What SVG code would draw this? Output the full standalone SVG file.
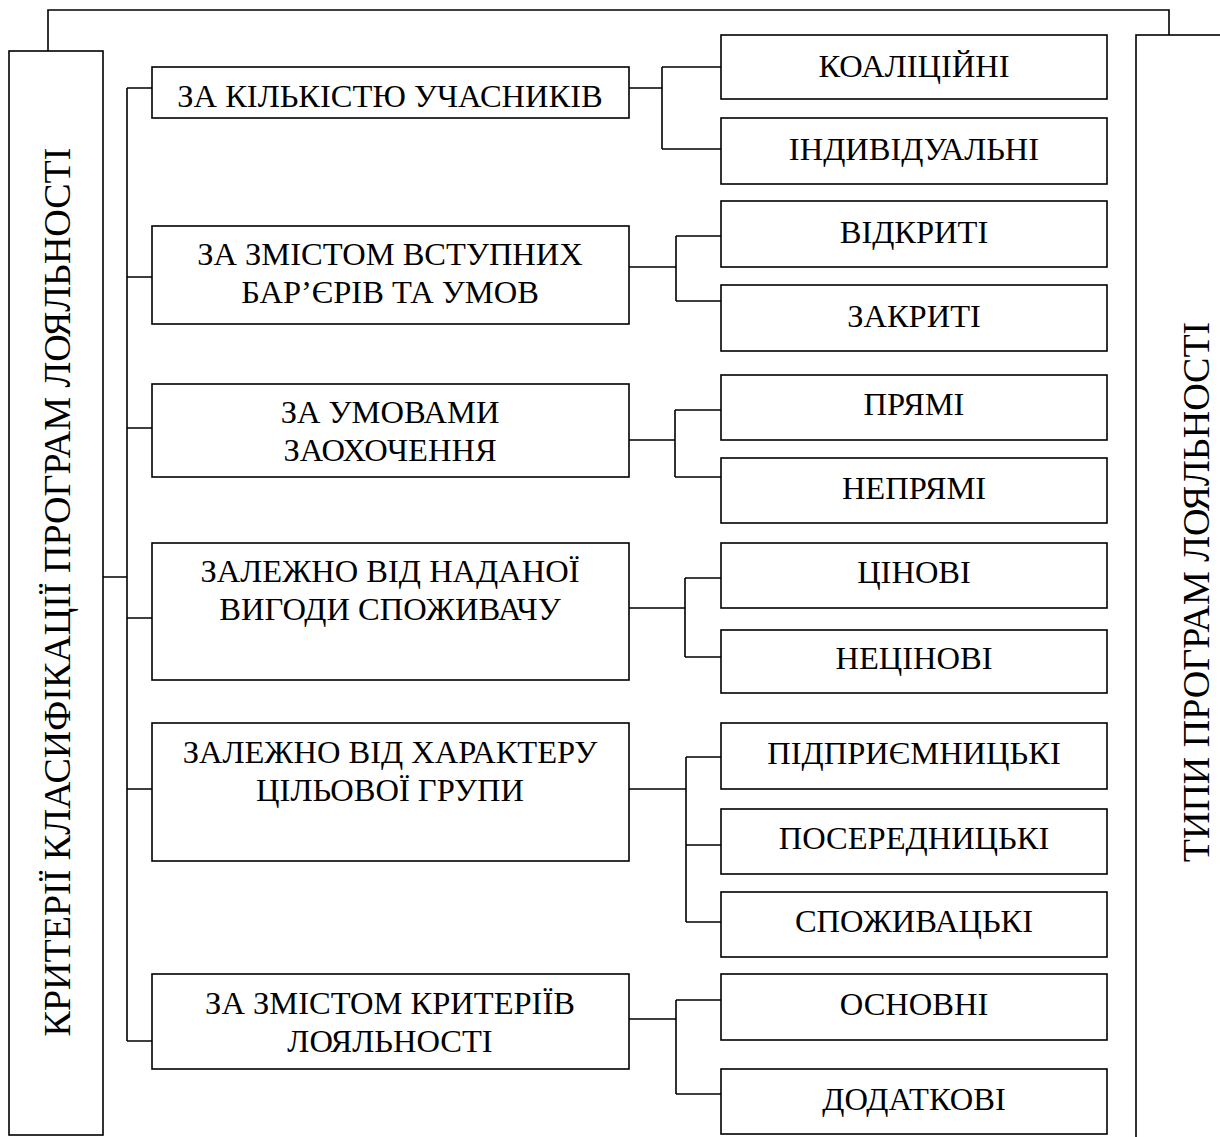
<svg xmlns="http://www.w3.org/2000/svg" width="1220" height="1137" viewBox="0 0 1220 1137">
<style>
.b{fill:#fff;stroke:#000;stroke-width:1.6}
.t{font-family:"Liberation Serif","Times New Roman",serif;font-size:32.5px;fill:#000;text-anchor:middle}
.v{font-family:"Liberation Serif","Times New Roman",serif;font-size:38px;fill:#000;text-anchor:middle}
.c{fill:none;stroke:#000;stroke-width:1.6}
</style>
<rect width="1220" height="1137" fill="#fff"/>
<g id="connectors">
<path class="c" d="M48,51 V10 H1169 V35"/>
<path class="c" d="M103,577 H127 M127,88 V1041 M127,88 H152 M127,277 H152 M127,428 H152 M127,618 H152 M127,789 H152 M127,1041 H152"/>
<path class="c" d="M629,88 H662 M662,67 V149 M662,67 H721 M662,149 H721"/>
<path class="c" d="M629,267 H676 M676,236 V301 M676,236 H721 M676,301 H721"/>
<path class="c" d="M629,440 H675 M675,410 V477 M675,410 H721 M675,477 H721"/>
<path class="c" d="M629,608 H685 M685,578 V657 M685,578 H721 M685,657 H721"/>
<path class="c" d="M629,789 H686 M686,757 V922 M686,757 H721 M686,845 H721 M686,922 H721"/>
<path class="c" d="M629,1019 H676 M676,1000 V1094 M676,1000 H721 M676,1094 H721"/>
</g>
<g id="criteria">
<rect class="b" x="9" y="51" width="94" height="1084"/>
<text class="v" transform="translate(70,592) rotate(-90)">КРИТЕРІЇ КЛАСИФІКАЦІЇ ПРОГРАМ ЛОЯЛЬНОСТІ</text>
</g>
<g id="types">
<rect class="b" x="1136" y="35" width="100" height="1110"/>
<text class="v" transform="translate(1209,592) rotate(-90)">ТИПИ ПРОГРАМ ЛОЯЛЬНОСТІ</text>
</g>
<g id="c1"><rect class="b" x="152" y="67" width="477" height="51"/><text class="t" x="390" y="107">ЗА КІЛЬКІСТЮ УЧАСНИКІВ</text></g>
<g id="c2"><rect class="b" x="152" y="226" width="477" height="98"/><text class="t" x="390" y="265">ЗА ЗМІСТОМ ВСТУПНИХ</text><text class="t" x="390" y="303">БАР’ЄРІВ ТА УМОВ</text></g>
<g id="c3"><rect class="b" x="152" y="384" width="477" height="93"/><text class="t" x="390" y="423">ЗА УМОВАМИ</text><text class="t" x="390" y="461">ЗАОХОЧЕННЯ</text></g>
<g id="c4"><rect class="b" x="152" y="543" width="477" height="137"/><text class="t" x="390" y="582">ЗАЛЕЖНО ВІД НАДАНОЇ</text><text class="t" x="390" y="620">ВИГОДИ СПОЖИВАЧУ</text></g>
<g id="c5"><rect class="b" x="152" y="723" width="477" height="138"/><text class="t" x="390" y="763">ЗАЛЕЖНО ВІД ХАРАКТЕРУ</text><text class="t" x="390" y="801">ЦІЛЬОВОЇ ГРУПИ</text></g>
<g id="c6"><rect class="b" x="152" y="974" width="477" height="95"/><text class="t" x="390" y="1014">ЗА ЗМІСТОМ КРИТЕРІЇВ</text><text class="t" x="390" y="1052">ЛОЯЛЬНОСТІ</text></g>
<g id="t1"><rect class="b" x="721" y="35" width="386" height="64"/><text class="t" x="914" y="77">КОАЛІЦІЙНІ</text></g>
<g id="t2"><rect class="b" x="721" y="118" width="386" height="66"/><text class="t" x="914" y="160">ІНДИВІДУАЛЬНІ</text></g>
<g id="t3"><rect class="b" x="721" y="201" width="386" height="66"/><text class="t" x="914" y="243">ВІДКРИТІ</text></g>
<g id="t4"><rect class="b" x="721" y="285" width="386" height="66"/><text class="t" x="914" y="327">ЗАКРИТІ</text></g>
<g id="t5"><rect class="b" x="721" y="375" width="386" height="65"/><text class="t" x="914" y="415">ПРЯМІ</text></g>
<g id="t6"><rect class="b" x="721" y="458" width="386" height="65"/><text class="t" x="914" y="499">НЕПРЯМІ</text></g>
<g id="t7"><rect class="b" x="721" y="543" width="386" height="65"/><text class="t" x="914" y="583">ЦІНОВІ</text></g>
<g id="t8"><rect class="b" x="721" y="630" width="386" height="63"/><text class="t" x="914" y="669">НЕЦІНОВІ</text></g>
<g id="t9"><rect class="b" x="721" y="723" width="386" height="66"/><text class="t" x="914" y="764">ПІДПРИЄМНИЦЬКІ</text></g>
<g id="t10"><rect class="b" x="721" y="809" width="386" height="65"/><text class="t" x="914" y="849">ПОСЕРЕДНИЦЬКІ</text></g>
<g id="t11"><rect class="b" x="721" y="892" width="386" height="65"/><text class="t" x="914" y="932">СПОЖИВАЦЬКІ</text></g>
<g id="t12"><rect class="b" x="721" y="974" width="386" height="66"/><text class="t" x="914" y="1015">ОСНОВНІ</text></g>
<g id="t13"><rect class="b" x="721" y="1069" width="386" height="65"/><text class="t" x="914" y="1110">ДОДАТКОВІ</text></g>
</svg>
